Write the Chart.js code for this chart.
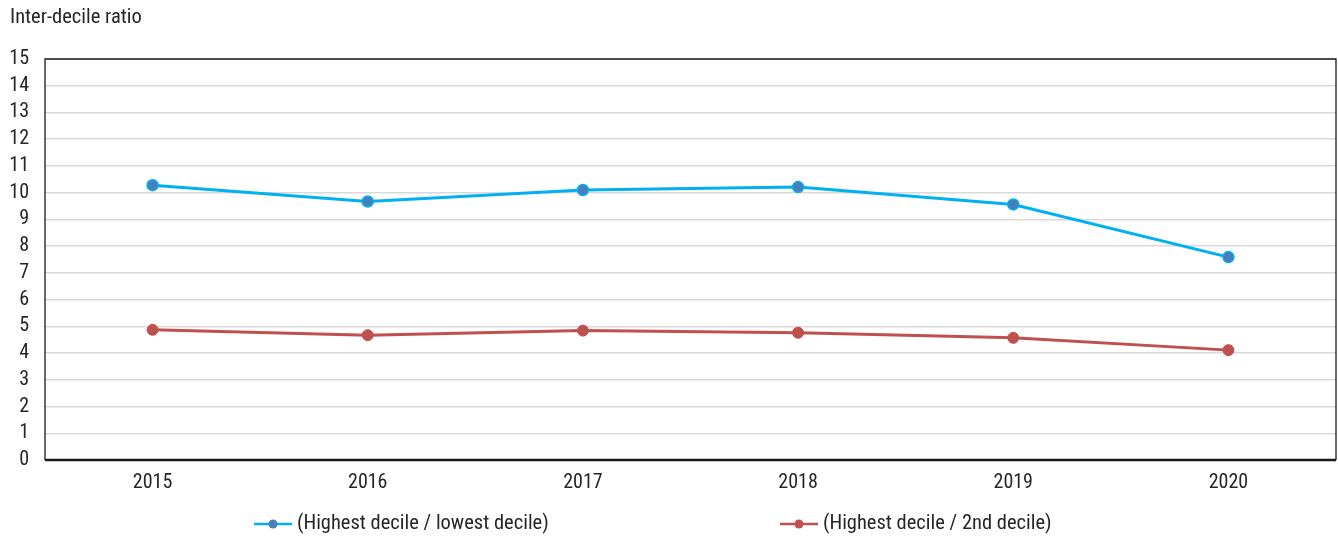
<!DOCTYPE html>
<html>
<head>
<meta charset="utf-8">
<script src="https://cdn.jsdelivr.net/npm/chart.js@4.4.1/dist/chart.umd.min.js"></script>
<style>
  html, body { margin: 0; padding: 0; background: #fff; overflow: hidden; }
  canvas { display: block; }
</style>
</head>
<body>
<canvas id="myChart" width="1338" height="538"></canvas>
<script>
const years = ["2015", "2016", "2017", "2018", "2019", "2020"];
const highLow = [10.28, 9.67, 10.1, 10.21, 9.56, 7.59];
const highSecond = [4.87, 4.67, 4.84, 4.76, 4.57, 4.11];
const seriesNames = ["(Highest decile / lowest decile)", "(Highest decile / 2nd decile)"];
const yTitle = "Inter-decile ratio";

const FONT = "'Liberation Sans Narrow', 'Roboto Condensed', Roboto, sans-serif";
const TEXT = "#262626";

// frame around the plot plus the title and the line+dot legend
const extras = {
  id: "extras",
  beforeDatasetsDraw(chart) {
    const a = chart.chartArea;
    const ctx = chart.ctx;
    ctx.save();
    ctx.strokeStyle = "#1a1a1a";
    ctx.lineWidth = 1.3;
    ctx.beginPath();
    ctx.moveTo(a.left, a.bottom);
    ctx.lineTo(a.left, a.top);
    ctx.lineTo(a.right, a.top);
    ctx.lineTo(a.right, a.bottom);
    ctx.stroke();
    ctx.lineWidth = 2.5;
    ctx.beginPath();
    ctx.moveTo(a.left, a.bottom);
    ctx.lineTo(a.right, a.bottom);
    ctx.stroke();
    ctx.restore();
  },
  afterDraw(chart) {
    const ctx = chart.ctx;
    ctx.save();
    ctx.fillStyle = TEXT;
    ctx.font = "20.5px " + FONT;
    ctx.textBaseline = "middle";
    ctx.fillText(yTitle, 10, 18);

    const starts = [254, 780];
    chart.data.datasets.forEach((ds, i) => {
      const x = starts[i], y = 524;
      ctx.strokeStyle = ds.borderColor;
      ctx.lineWidth = 2.5;
      ctx.beginPath();
      ctx.moveTo(x, y);
      ctx.lineTo(x + 38, y);
      ctx.stroke();
      ctx.fillStyle = ds.pointBackgroundColor;
      ctx.beginPath();
      ctx.arc(x + 19, y, 4.5, 0, Math.PI * 2);
      ctx.fill();
      ctx.fillStyle = TEXT;
      ctx.font = "20.5px " + FONT;
      ctx.fillText(ds.label, x + 43, y);
    });
    ctx.restore();
  }
};

const ctx = document.getElementById("myChart").getContext("2d");
const myChart = new Chart(ctx, {
  type: "line",
  data: {
    labels: years,
    datasets: [
      {
        label: seriesNames[0],
        data: highLow,
        borderColor: "#00b0f0",
        borderWidth: 3,
        pointBackgroundColor: "#4a7ebb",
        pointBorderColor: "#00b0f0",
        pointBorderWidth: 1.5,
        pointRadius: 5.5,
        tension: 0
      },
      {
        label: seriesNames[1],
        data: highSecond,
        borderColor: "#c0504d",
        borderWidth: 3,
        pointBackgroundColor: "#c0504d",
        pointBorderColor: "#c0504d",
        pointBorderWidth: 1,
        pointRadius: 5.5,
        tension: 0
      }
    ]
  },
  options: {
    responsive: false,
    animation: false,
    layout: { autoPadding: false, padding: { top: 59, right: 2, left: 0, bottom: 0 } },
    plugins: {
      legend: { display: false },
      tooltip: { enabled: false }
    },
    scales: {
      x: {
        offset: true,
        grid: { display: false, drawTicks: false },
        border: { display: false },
        ticks: { color: TEXT, font: { family: FONT, size: 20 }, padding: 11, maxRotation: 0 },
        afterFit(scale) { scale.height = 78; }
      },
      y: {
        min: 0,
        max: 15,
        ticks: { stepSize: 1, autoSkip: false, color: TEXT, font: { family: FONT, size: 20 }, padding: 16 },
        grid: { color: "#d9d9d9", lineWidth: 1.5, drawTicks: false },
        border: { display: false },
        afterFit(scale) { scale.width = 45; }
      }
    }
  },
  plugins: [extras]
});
</script>
</body>
</html>
